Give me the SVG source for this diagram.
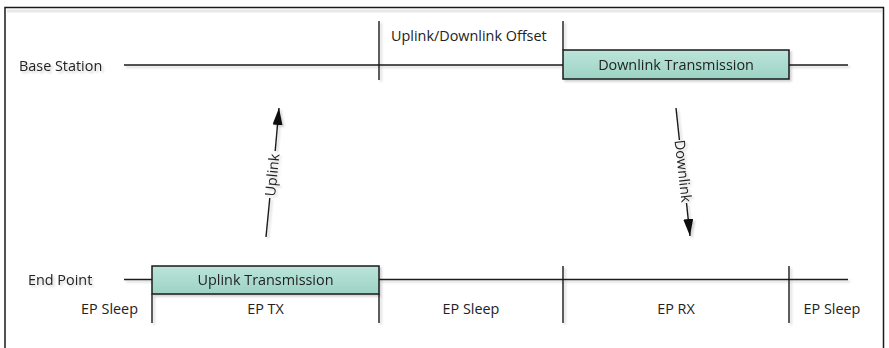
<svg xmlns="http://www.w3.org/2000/svg" width="889" height="348" viewBox="0 0 889 348">
  <style>
    text { font-family: "Open Sans", "Noto Sans", "DejaVu Sans", sans-serif; font-size: 14.4px; fill: #222; }
    .mid { text-anchor: middle; }
    .end { text-anchor: end; }
    .ln { stroke: #1a1a1a; stroke-width: 1.4; fill: none; }
    .box { fill: url(#teal); stroke: #1a1a1a; stroke-width: 1.5; }
  </style>
  <defs>
    <linearGradient id="teal" x1="0" y1="0" x2="0" y2="1">
      <stop offset="0" stop-color="#bce4da"/>
      <stop offset="1" stop-color="#9cd3c4"/>
    </linearGradient>
    <filter id="shadow" x="-5%" y="-20%" width="110%" height="140%">
      <feDropShadow dx="2" dy="2" stdDeviation="1.2" flood-color="#000" flood-opacity="0.18"/>
    </filter>
    <marker id="head" viewBox="0 0 17 10" refX="17" refY="5" markerWidth="17" markerHeight="10" orient="auto" markerUnits="userSpaceOnUse">
      <path d="M0,0 L17,5 L0,10 z" fill="#111"/>
    </marker>
  </defs>

  <rect width="889" height="348" fill="#fff"/>
  <!-- outer frame -->
  <path d="M5,349 V7.5 H883.5 V349" fill="none" stroke="#1a1a1a" stroke-width="1.5"/>
  <path d="M7,11 H882" stroke="#e8e8e8" stroke-width="3" fill="none"/>

  <!-- base station timeline -->
  <g id="base-station" filter="url(#shadow)">
    <text x="19" y="71">Base Station</text>
    <path class="ln" d="M124,65 H563 M789,65 H848"/>
    <path class="ln" d="M379,21 V80"/>
    <path class="ln" d="M563,21 V50"/>
  </g>

  <g id="offset-label">
    <text x="391" y="40.5">Uplink/Downlink Offset</text>
  </g>

  <g id="downlink-tx" filter="url(#shadow)">
    <rect class="box" x="563" y="50" width="226" height="29"/>
    <text class="mid" x="676" y="69.5">Downlink Transmission</text>
  </g>

  <!-- end point timeline -->
  <g id="end-point" filter="url(#shadow)">
    <text x="28" y="285">End Point</text>
    <path class="ln" d="M124,279.5 H152 M379,279.5 H848"/>
    <path class="ln" d="M152,294 V323 M379,294 V323 M563,266 V323 M789,266 V323"/>
  </g>

  <g id="uplink-tx" filter="url(#shadow)">
    <rect class="box" x="152" y="266" width="227" height="28"/>
    <text class="mid" x="265.5" y="285">Uplink Transmission</text>
  </g>

  <g id="ep-states">
    <text class="end" x="138" y="314">EP Sleep</text>
    <text class="mid" x="265.5" y="314">EP TX</text>
    <text class="mid" x="471" y="314">EP Sleep</text>
    <text class="mid" x="676" y="314">EP RX</text>
    <text class="mid" x="832" y="314">EP Sleep</text>
  </g>

  <!-- connectors -->
  <g id="connectors" filter="url(#shadow)">
    <path class="ln" d="M266,237 L269.8,198"/>
    <path class="ln" d="M275.2,151 L279,108" marker-end="url(#head)"/>
    <text class="mid" transform="translate(272.3,175) rotate(-84.2)" dy="5">Uplink</text>

    <path class="ln" d="M676,108 L679.4,140"/>
    <path class="ln" d="M686.5,203 L690,236" marker-end="url(#head)"/>
    <text class="mid" transform="translate(683,171) rotate(83.7)" dy="5">Downlink</text>
  </g>
</svg>
